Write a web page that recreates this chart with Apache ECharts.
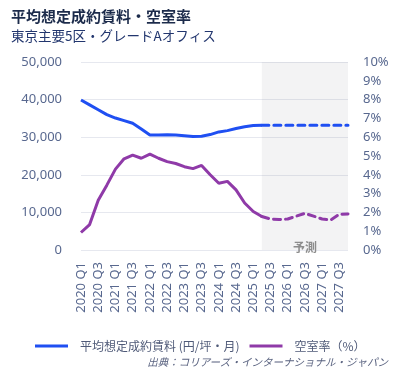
<!DOCTYPE html>
<html>
<head>
<meta charset="utf-8">
<script src="https://cdn.jsdelivr.net/npm/echarts@6/dist/echarts.min.js"></script>
<style>
html,body{margin:0;padding:0;background:#fff;}
#main{width:405px;height:374px;}
</style>
</head>
<body>
<div id="main"></div>
<script>
var categories = ['2020 Q1','2020 Q2','2020 Q3','2020 Q4','2021 Q1','2021 Q2','2021 Q3','2021 Q4',
  '2022 Q1','2022 Q2','2022 Q3','2022 Q4','2023 Q1','2023 Q2','2023 Q3','2023 Q4',
  '2024 Q1','2024 Q2','2024 Q3','2024 Q4','2025 Q1','2025 Q2','2025 Q3','2025 Q4',
  '2026 Q1','2026 Q2','2026 Q3','2026 Q4','2027 Q1','2027 Q2','2027 Q3','2027 Q4'];
// actual: 2020 Q1 - 2025 Q2
var rentActual = [39900, 38600, 37300, 36000, 35100, 34400, 33700, 32200, 30600, 30600, 30650,
  30600, 30400, 30200, 30250, 30700, 31400, 31750, 32300, 32800, 33100, 33200];
// forecast: 2025 Q2 - 2027 Q4
var rentForecast = [33200, 33200, 33200, 33200, 33200, 33200, 33200, 33200, 33200, 33200, 33200];
var vacancyActual = [0.93, 1.35, 2.65, 3.45, 4.3, 4.85, 5.05, 4.88, 5.1, 4.88, 4.7,
  4.6, 4.43, 4.33, 4.5, 4.0, 3.55, 3.65, 3.2, 2.5, 2.05, 1.78];
var vacancyForecast = [1.78, 1.65, 1.62, 1.65, 1.8, 1.95, 1.8, 1.65, 1.6, 1.9, 1.92];
var leftTicks = [0, 10000, 20000, 30000, 40000, 50000];
var rightTicks = [0,1,2,3,4,5,6,7,8,9,10];
var forecastStart = '2025 Q2';
var forecastEnd = '2027 Q4';
var rentName = '平均想定成約賃料 (円/坪・月)';
var vacName = '空室率（%）';

function pad(arr, startIdx) {
  var out = [];
  for (var i = 0; i < categories.length; i++) {
    var j = i - startIdx;
    out.push(j >= 0 && j < arr.length ? arr[j] : '-');
  }
  return out;
}
var fcIdx = categories.indexOf(forecastStart);

var FONT = '"Noto Sans", "Noto Sans CJK JP", sans-serif';
var labelColor = '#58688f';
var blue = '#1f4ff2';
var purple = '#8f3aa8';

var chart = echarts.init(document.getElementById('main'));
chart.setOption({
  animation: false,
  textStyle: {fontFamily: FONT},
  title: {
    text: '平均想定成約賃料・空室率',
    subtext: '東京主要5区・グレードAオフィス',
    left: 6, top: 4, itemGap: 5,
    textStyle: {fontSize: 15, fontWeight: 'bold', color: '#1c2b4b', fontFamily: '"Noto Sans CJK JP"'},
    subtextStyle: {fontSize: 13.5, color: '#22366e', fontFamily: '"Noto Sans CJK JP"'}
  },
  grid: {left: 81, right: 57, top: 62, bottom: 124},
  legend: {
    left: 30, top: 335,
    icon: 'rect', itemWidth: 33, itemHeight: 3, itemGap: 10,
    textStyle: {fontSize: 12, color: '#4f5a78', fontFamily: '"Noto Sans CJK JP"', padding: [0,0,0,7]},
    data: [rentName, vacName]
  },
  graphic: [{
    type: 'text', right: 17, top: 357,
    style: {text: '出典：コリアーズ・インターナショナル・ジャパン', fill: '#5a6380',
      font: 'italic 10.5px "Noto Sans CJK JP"'}
  }],
  xAxis: {
    type: 'category', data: categories, boundaryGap: false,
    axisLine: {show: false}, axisTick: {show: false},
    axisLabel: {rotate: 90, interval: 1, fontSize: 13, color: labelColor, margin: 12}
  },
  yAxis: [{
    type: 'value', min: leftTicks[0], max: leftTicks[leftTicks.length-1], interval: 10000,
    axisLine: {show: false}, axisTick: {show: false},
    axisLabel: {fontSize: 13, color: labelColor, margin: 19,
      formatter: function(v){ return v.toLocaleString('en-US'); }},
    splitLine: {lineStyle: {color: '#e6e8ef', width: 1}}
  }, {
    type: 'value', min: rightTicks[0], max: rightTicks[rightTicks.length-1], interval: 1,
    axisLine: {show: false}, axisTick: {show: false},
    axisLabel: {fontSize: 13, color: labelColor, margin: 15, formatter: '{value}%'},
    splitLine: {show: false}
  }],
  series: [{
    name: rentName, type: 'line', yAxisIndex: 0, data: pad(rentActual, 0),
    showSymbol: false, symbol: 'none', lineStyle: {color: blue, width: 3}, itemStyle: {color: blue}, z: 3
  }, {
    name: rentName, type: 'line', yAxisIndex: 0, data: pad(rentForecast, fcIdx),
    showSymbol: false, symbol: 'none', lineStyle: {color: blue, width: 3, type: [7, 5], cap: 'round'}, itemStyle: {color: blue}, z: 3,
    markArea: {
      silent: true,
      itemStyle: {color: 'rgba(120,120,130,0.085)'},
      label: {show: true, position: 'insideBottom', distance: 0, offset: [0, 3],
        color: '#8c8c8c', fontSize: 12, fontWeight: 'bold', fontFamily: '"Noto Sans CJK JP"'},
      data: [[{name: '予測', xAxis: forecastStart}, {xAxis: forecastEnd}]]
    }
  }, {
    name: vacName, type: 'line', yAxisIndex: 1, data: pad(vacancyActual, 0),
    showSymbol: false, symbol: 'none', lineStyle: {color: purple, width: 3}, itemStyle: {color: purple}, z: 3
  }, {
    name: vacName, type: 'line', yAxisIndex: 1, data: pad(vacancyForecast, fcIdx),
    showSymbol: false, symbol: 'none', lineStyle: {color: purple, width: 3, type: [7, 5], cap: 'round'}, itemStyle: {color: purple}, z: 3
  }]
});
</script>
</body>
</html>
